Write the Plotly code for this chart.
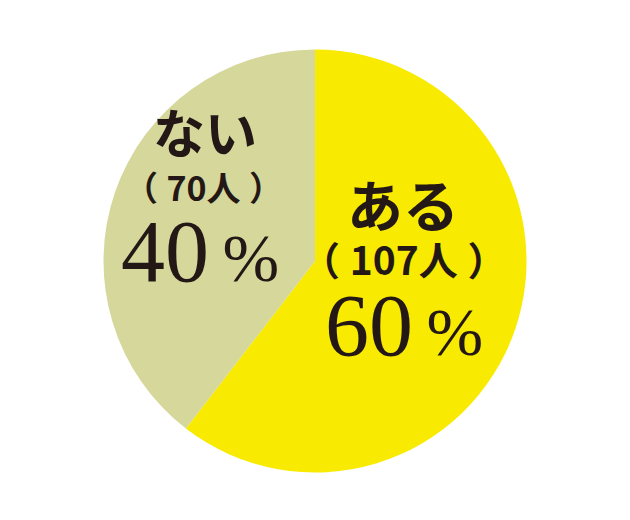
import plotly.graph_objects as go

# answers and head counts
labels = ['ある', 'ない']
counts = [107, 70]
colors = ['#F8EA00', '#D6D79B']

total = sum(counts)
percents = [round(c / total * 100) for c in counts]

W, H = 630, 520
OFF = 8  # page body margin shifts the plot by this many pixels


def px(x, y):
    # screenshot pixel -> paper coordinates
    return (x - OFF) / W, 1 - (y - OFF) / H


cx, cy, r = 315, 261, 211.5
x0, y1 = px(cx - r, cy - r)
x1, y0 = px(cx + r, cy + r)

fig = go.Figure()

fig.add_trace(go.Pie(labels=labels, values=counts,
                     sort=False, direction='clockwise', rotation=0,
                     marker=dict(colors=colors, line=dict(width=0)),
                     textinfo='none', hoverinfo='label+value+percent',
                     domain=dict(x=[x0, x1], y=[y0, y1]),
                     showlegend=False))

ink = '#231815'
# per slice: (label centre, count centre, percent centre) in screenshot px, and sizes
blocks = [
    dict(pos=[(403, 202), (404, 258), (404, 325)], sizes=(56, 39)),
    dict(pos=[(205, 130), (203, 186), (200, 251)], sizes=(52, 34)),
]

for lab, n, pct, blk in zip(labels, counts, percents, blocks):
    (lx, ly), (nx, ny), (qx, qy) = [px(*p) for p in blk['pos']]
    s_lab, s_n = blk['sizes']
    common = dict(xref='paper', yref='paper', showarrow=False,
                  xanchor='center', yanchor='middle')
    fig.add_annotation(x=lx, y=ly, text=lab,
                       font=dict(family='Noto Sans CJK JP', size=s_lab,
                                 color=ink, weight='bold'), **common)
    fig.add_annotation(x=nx, y=ny, text=f'（\u2005{n}人\u2005）',
                       font=dict(family='Noto Sans CJK JP', size=s_n,
                                 color=ink, weight='bold'), **common)
    fig.add_annotation(x=qx, y=qy,
                       text=f"{pct}<span style='font-size:68px'>\u2009%</span>",
                       font=dict(family='Liberation Serif', size=88, color=ink),
                       **common)

fig.update_layout(width=W, height=H,
                  margin=dict(l=0, r=0, t=0, b=0),
                  paper_bgcolor='white', plot_bgcolor='white')

fig.write_html('out.html')
